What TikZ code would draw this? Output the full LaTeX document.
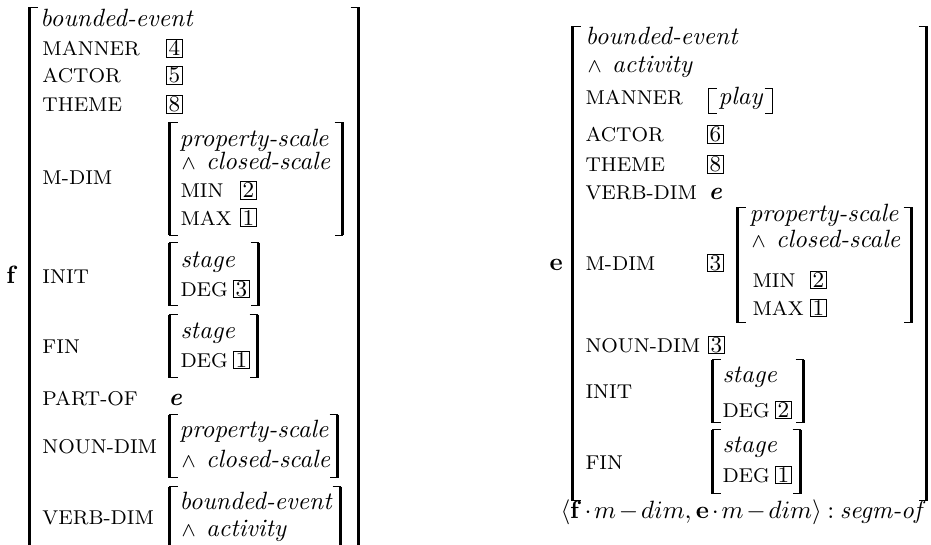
\documentclass[tikz,border=0pt]{standalone}
\usepackage{amsmath,amssymb}
\usepackage{tikz}
\usetikzlibrary{fit}
\tikzset{
  attr/.style={font=\footnotesize,anchor=base west,inner sep=0pt},
  val/.style={font=\itshape,anchor=base west,inner sep=0pt},
  tag/.style={draw,line width=0.4pt,font=\small,anchor=base west,
    inner sep=0.5pt,text height=5.9pt,text depth=0pt,minimum width=6.4pt},
  ident/.style={font=\bfseries,anchor=base west,inner sep=0pt},
  frame/.style={inner sep=0pt},
  serif/.style={line width=0.6pt}
}
% brackets round a frame node: [stem width]{node}
\newcommand{\avmbrk}[2][1.2pt]{%
  \draw[serif] ([xshift=3.2pt]#2.north west) -- (#2.north west)
    -- (#2.south west) -- ([xshift=3.2pt]#2.south west);
  \draw[serif] ([xshift=-3.2pt]#2.north east) -- (#2.north east)
    -- (#2.south east) -- ([xshift=-3.2pt]#2.south east);
  \draw[line width=#1] (#2.north west) -- (#2.south west);
  \draw[line width=#1] (#2.north east) -- (#2.south east);}
\newcommand{\conj}[1]{{\footnotesize$\wedge$}\hspace{4.2pt}\textit{#1}}

\begin{document}
\begin{tikzpicture}[x=0.4pt,y=-0.4pt]
  \useasboundingbox (0,0) rectangle (931,545);
  \clip (0,0) rectangle (931,545);

  % left structure f
  \node[ident] (f) at (6,283) {f};
  \node[frame,fit={(30,8) (358,562)}] (fOuter) {};
  \avmbrk{fOuter}
  \node[val] (fType) at (40,27) {bounded-event};
  \node[attr] (fManner) at (42,56) {MANNER};
  \node[tag] (fMannerV) at (166,56) {4};
  \node[attr] (fActor) at (42,83) {ACTOR};
  \node[tag] (fActorV) at (166,83) {5};
  \node[attr] (fTheme) at (42,112) {THEME};
  \node[tag] (fThemeV) at (166,112) {8};

  \node[attr] (fMdim) at (42,185) {M-DIM};
  \node[frame,fit={(170,123) (342,235)}] (fMdimV) {};
  \avmbrk{fMdimV}
  \node[val] (fMdimT1) at (179,147) {property-scale};
  \node[val] (fMdimT2) at (181,170) {\conj{closed-scale}};
  \node[attr] (fMin) at (180,198) {MIN};
  \node[tag] (fMinV) at (240,198) {2};
  \node[attr] (fMax) at (180,225) {MAX};
  \node[tag] (fMaxV) at (240,225) {1};

  \node[attr] (fInit) at (42,283) {INIT};
  \node[frame,fit={(170,243) (258,305)}] (fInitV) {};
  \avmbrk{fInitV}
  \node[val] (fInitT) at (180,267) {stage};
  \node[attr] (fInitD) at (180,296) {DEG};
  \node[tag] (fInitDV) at (233,296) {3};

  \node[attr] (fFin) at (42,353) {FIN};
  \node[frame,fit={(170,315) (257,377)}] (fFinV) {};
  \avmbrk{fFinV}
  \node[val] (fFinT) at (180,338) {stage};
  \node[attr] (fFinD) at (180,367) {DEG};
  \node[tag] (fFinDV) at (233,367) {1};

  \node[attr] (fPart) at (42,405) {PART-OF};
  \node[val] (fPartV) at (168,405) {\textbf{e}};

  \node[attr] (fNoun) at (42,453) {NOUN-DIM};
  \node[frame,fit={(170,415) (337,477)}] (fNounV) {};
  \avmbrk{fNounV}
  \node[val] (fNounT1) at (179,437) {property-scale};
  \node[val] (fNounT2) at (181,467) {\conj{closed-scale}};

  \node[attr] (fVerb) at (42,524) {VERB-DIM};
  \node[frame,fit={(170,487) (340,556)}] (fVerbV) {};
  \avmbrk{fVerbV}
  \node[val] (fVerbT1) at (179,509) {bounded-event};
  \node[val] (fVerbT2) at (181,536) {\conj{activity}};

  % right structure e
  \node[ident] (e) at (549,270) {e};
  \node[frame,fit={(573,27) (926,500)}] (eOuter) {};
  \avmbrk{eOuter}
  \node[val] (eType1) at (585,45) {bounded-event};
  \node[val] (eType2) at (587,73) {\conj{activity}};
  \node[attr] (eManner) at (585,105) {MANNER};
  \node[frame,fit={(709,89) (772,113)}] (eMannerV) {};
  \avmbrk[0.6pt]{eMannerV}
  \node[val] (eMannerT) at (718,105) {play};
  \node[attr] (eActor) at (585,142) {ACTOR};
  \node[tag] (eActorV) at (707,142) {6};
  \node[attr] (eTheme) at (585,172) {THEME};
  \node[tag] (eThemeV) at (707,172) {8};
  \node[attr] (eVerb) at (585,200) {VERB-DIM};
  \node[val] (eVerbV) at (708,200) {\textbf{e}};

  \node[attr] (eMdim) at (585,270) {M-DIM};
  \node[tag] (eMdimV) at (707,270) {3};
  \node[frame,fit={(738,208) (911,322)}] (eMdimS) {};
  \avmbrk{eMdimS}
  \node[val] (eMdimT1) at (749,222) {property-scale};
  \node[val] (eMdimT2) at (751,248) {\conj{closed-scale}};
  \node[attr] (eMin) at (752,287) {MIN};
  \node[tag] (eMinV) at (810,287) {2};
  \node[attr] (eMax) at (752,315) {MAX};
  \node[tag] (eMaxV) at (810,315) {1};

  \node[attr] (eNoun) at (585,352) {NOUN-DIM};
  \node[tag] (eNounV) at (708,352) {3};

  \node[attr] (eInit) at (585,398) {INIT};
  \node[frame,fit={(713,360) (803,422)}] (eInitV) {};
  \avmbrk{eInitV}
  \node[val] (eInitT) at (722,382) {stage};
  \node[attr] (eInitD) at (722,417) {DEG};
  \node[tag] (eInitDV) at (775,417) {2};

  \node[attr] (eFin) at (585,469) {FIN};
  \node[frame,fit={(713,430) (800,493)}] (eFinV) {};
  \avmbrk{eFinV}
  \node[val] (eFinT) at (722,452) {stage};
  \node[attr] (eFinD) at (722,482) {DEG};
  \node[tag] (eFinDV) at (775,482) {1};

  \node[anchor=base west,inner sep=0pt] (segm) at (560,518)
    {\medmuskip=2mu\thickmuskip=4mu
     $\langle\mathbf{f}\cdot m-dim,\mathbf{e}\cdot m-dim\rangle : \textit{segm-of}$};
\end{tikzpicture}
\end{document}
